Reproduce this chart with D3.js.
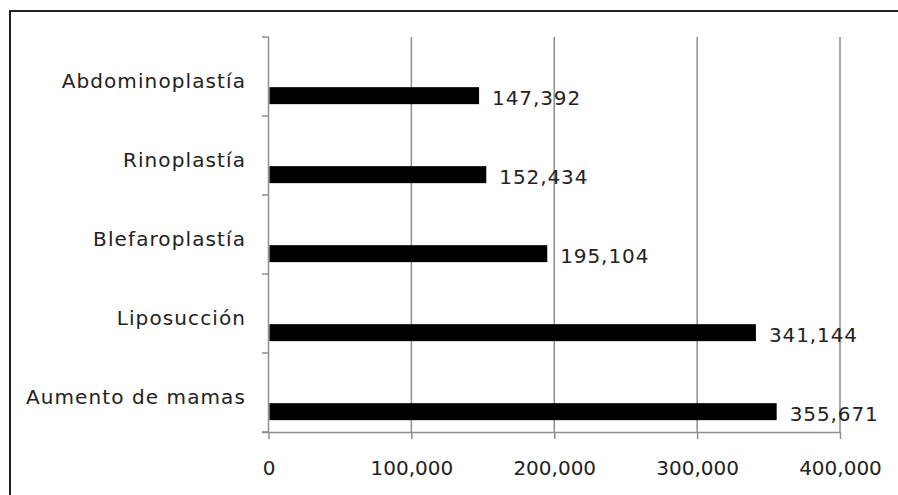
<!doctype html>
<html lang="es">
<head>
    <meta charset="UTF-8">
    <title>Procedimientos estéticos</title>
    <style>
        body { margin: 0; background: #fff; overflow: hidden; }
        svg { display: block; }
        text { font-family: "DejaVu Sans", sans-serif; fill: #222; }
    </style>
</head>
<body>
    <svg width="898" height="495"></svg>
    <script src="https://cdn.jsdelivr.net/npm/d3@7"></script>
    <script>
        // datos
        const categories = ["Abdominoplastía", "Rinoplastía", "Blefaroplastía", "Liposucción", "Aumento de mamas"];
        const values = [147392, 152434, 195104, 341144, 355671];
        const xTicks = [0, 100000, 200000, 300000, 400000];

        const svg = d3.select("svg");
        const gridColor = "#8f8f8f";

        // marco del gráfico (solo bordes izquierdo y superior quedan dentro de la imagen)
        svg.append("path")
            .attr("d", "M10,495V11H898")
            .attr("fill", "none")
            .attr("stroke", "#222")
            .attr("stroke-width", 2);

        const x = d3.scaleLinear().domain([0, 400000]).range([268.5, 840]);
        const y = d3.scaleBand().domain(categories).range([37, 432]).padding(0);
        const bw = y.bandwidth();

        // líneas de cuadrícula verticales
        svg.append("g")
            .selectAll("line")
            .data(xTicks.slice(1))
            .join("line")
            .attr("x1", d => x(d)).attr("x2", d => x(d))
            .attr("y1", 37).attr("y2", 432)
            .attr("stroke", gridColor)
            .attr("stroke-width", 1.5);

        // eje x
        const xAxis = d3.axisBottom(x)
            .tickValues(xTicks)
            .tickSize(7)
            .tickSizeOuter(0)
            .tickFormat(d3.format(","));
        const xAxisG = svg.append("g")
            .attr("transform", "translate(0,432)")
            .call(xAxis);
        xAxisG.select(".domain").attr("stroke", gridColor).attr("stroke-width", 1.5)
            .attr("d", "M262,0.5H" + x(400000));
        xAxisG.selectAll(".tick line").attr("stroke", gridColor).attr("stroke-width", 1.5);
        xAxisG.selectAll(".tick text")
            .attr("y", 43).attr("dy", null)
            .style("font-size", "20px")
            .style("font-family", "DejaVu Sans, sans-serif")
            .attr("fill", "#222");

        // eje y (línea y marcas entre categorías)
        svg.append("line")
            .attr("x1", x(0)).attr("x2", x(0))
            .attr("y1", 37).attr("y2", 432)
            .attr("stroke", gridColor).attr("stroke-width", 1.5);
        const bounds = categories.map(c => y(c)).concat([y.range()[1]]);
        svg.append("g")
            .selectAll("line")
            .data(bounds)
            .join("line")
            .attr("x1", 262).attr("x2", x(0))
            .attr("y1", d => d).attr("y2", d => d)
            .attr("stroke", gridColor).attr("stroke-width", 1.5);

        // etiquetas de categoría
        svg.append("g")
            .selectAll("text")
            .data(categories)
            .join("text")
            .attr("x", 246)
            .attr("y", d => y(d) + bw * 0.64)
            .attr("text-anchor", "end")
            .style("font-size", "20px")
            .style("letter-spacing", "1.1px")
            .text(d => d);

        // barras
        const barTop = c => y(c) + bw * 0.635;
        const barH = bw * 0.215;
        svg.append("g")
            .selectAll("rect")
            .data(values)
            .join("rect")
            .attr("x", x(0) + 1)
            .attr("y", (d, i) => barTop(categories[i]))
            .attr("width", d => x(d) - x(0) - 1)
            .attr("height", barH)
            .attr("fill", "#000");

        // etiquetas de valor
        svg.append("g")
            .selectAll("text")
            .data(values)
            .join("text")
            .attr("x", d => x(d) + 13)
            .attr("y", (d, i) => barTop(categories[i]) + barH + 1)
            .style("font-size", "20px")
            .style("letter-spacing", "0.9px")
            .text(d => d3.format(",")(d));
    </script>
</body>
</html>
